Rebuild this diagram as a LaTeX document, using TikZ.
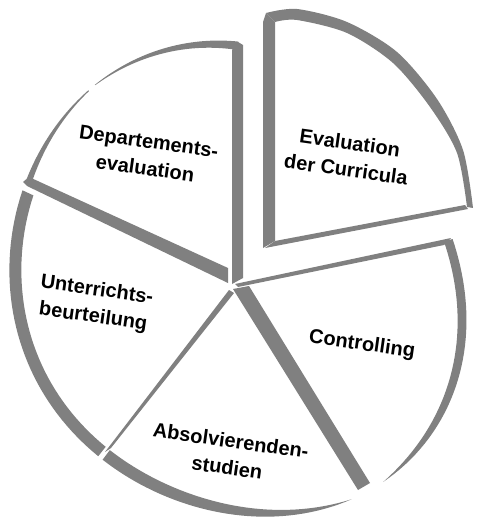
\documentclass[tikz,border=0pt]{standalone}
\usepackage{fontspec}
\setmainfont{Liberation Sans}
\definecolor{rim}{RGB}{128,128,128}
\pgfmathdeclarefunction{pr}{1}{%
  \pgfmathparse{231.9 + 5.53*cos(#1) - 5.7*sin(#1) - 4.79*cos(2*(#1)) + 12.05*sin(2*(#1)) - 0.42*cos(3*(#1)) + 4.58*sin(3*(#1))}%
}
\tikzset{
  rimfill/.style={fill=rim},
  lbl/.style={font=\bfseries\fontsize{20}{27}\selectfont, align=center, rotate=-8, inner sep=0pt},
  smp/.style={samples=40, variable=\t}
}
\begin{document}
\begin{tikzpicture}[x=1pt,y=-1pt]
\useasboundingbox[fill=white] (0,0) rectangle (477,518);
\coordinate (apex) at (232,288);

% --- Evaluation der Curricula (exploded slice) ---
\fill[rimfill] (263,22) -- (266,13) -- (275,22) -- (275,241) -- (263,248) -- cycle;
\fill[rimfill] plot[smooth] coordinates {(266,13) (297,9) (347,22) (397,52) (437,99) (463,150) (473,208)}
  -- plot[smooth] coordinates {(467,207) (457,153) (430,107) (393,63) (347,33) (297,20) (275,22)} -- cycle;
\fill[rimfill] (265,248) -- (275,241) -- (465,205) -- (468,209) -- cycle;

% --- Departements-evaluation ---
\fill[rimfill] (232,50) -- (238,42) -- (243,45) -- (243,278) -- (232,284) -- cycle;
\fill[rimfill] plot[smp, domain=271.5:236] ({232+pr(\t)*cos(\t)}, {288+pr(\t)*sin(\t)})
  -- plot[smp, domain=236:271.5] ({232+(pr(\t)-0.5-8*(\t-236)/35.5)*cos(\t)}, {288+(pr(\t)-0.5-8*(\t-236)/35.5)*sin(\t)}) -- cycle;
\fill[rimfill] plot[smp, domain=234:208] ({232+pr(\t)*cos(\t)}, {288+pr(\t)*sin(\t)})
  -- plot[smp, domain=208:234] ({232+(pr(\t)-1-5*(234-\t)/26)*cos(\t)}, {288+(pr(\t)-1-5*(234-\t)/26)*sin(\t)}) -- cycle;
\fill[rimfill] (23,182) -- (29,177) -- (228,268) -- (228,283) -- (27,186) -- cycle;

% --- Unterrichtsbeurteilung ---
\fill[rimfill] plot[smp, domain=205:128.5] ({232+pr(\t)*cos(\t)}, {288+pr(\t)*sin(\t)})
  -- plot[smp, domain=128.5:205] ({232+(pr(\t)-12)*cos(\t)}, {288+(pr(\t)-12)*sin(\t)}) -- cycle;
\fill[rimfill] (229,290) -- (234,293) -- (111,448) -- (105,452) -- cycle;

% --- Absolvierendenstudien ---
\fill[rimfill] plot[smp, domain=127:60.5] ({232+pr(\t)*cos(\t)}, {288+pr(\t)*sin(\t)})
  -- plot[smp, domain=60.5:127] ({232+(pr(\t)-12*(1-((127-\t)/66.5)^2.5))*cos(\t)}, {288+(pr(\t)-12*(1-((127-\t)/66.5)^2.5))*sin(\t)}) -- cycle;

% --- Controlling ---
\fill[rimfill] (233,289) -- (249,286) -- (370,483) -- (358,490) -- cycle;
\fill[rimfill] (235,284) -- (451,238) -- (444,245) -- (238,287) -- cycle;
\fill[rimfill] plot[smp, domain=-12.5:52] ({232+pr(\t)*cos(\t)}, {288+pr(\t)*sin(\t)})
  -- plot[smp, domain=52:-12.5] ({232+(pr(\t)-9*(1-((\t+12.5)/64.5)^4))*cos(\t)}, {288+(pr(\t)-9*(1-((\t+12.5)/64.5)^4))*sin(\t)}) -- cycle;

% --- labels ---
\node[lbl] (eval) at (348,156) {Evaluation\\der Curricula};
\node[lbl] (dep) at (147,155) {Departements-\\evaluation};
\node[lbl] (unt) at (95,304) {Unterrichts-\\beurteilung};
\node[lbl] (abs) at (229,454) {Absolvierenden-\\studien};
\node[lbl] (con) at (362,345) {Controlling};
\end{tikzpicture}
\end{document}
